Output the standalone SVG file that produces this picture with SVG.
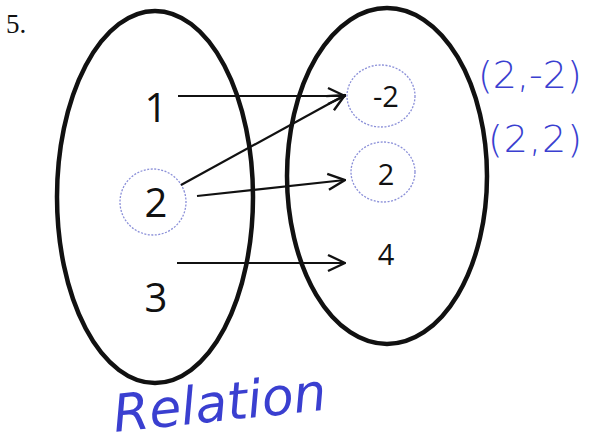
<svg xmlns="http://www.w3.org/2000/svg" width="612" height="448" viewBox="0 0 612 448">
<defs>
<style>
.set{fill:none;stroke:#111;stroke-width:4.5}
.num{font-family:"Open Sans","Liberation Sans",sans-serif;fill:#111}
.big{font-size:40px}
.small{font-size:29px}
.conn line{stroke:#111;stroke-width:2.2}
.circ{fill:none;stroke:#8a8fd8;stroke-width:1.3;stroke-dasharray:2 1.5}
.hand{font-family:"DejaVu Sans","Noto Sans",sans-serif;fill:#3a3fd0;font-weight:300}
</style>
<marker id="arr" viewBox="0 0 20 20" refX="19" refY="10" markerWidth="20" markerHeight="20" markerUnits="userSpaceOnUse" orient="auto">
<path d="M2,2 L19,10 L2,18" fill="none" stroke="#111" stroke-width="2.4"/>
</marker>
</defs>
<rect width="612" height="448" fill="#fff"/>
<text x="6" y="33" font-family="Liberation Serif,serif" font-size="27" fill="#111">5.</text>
<g id="domain">
<ellipse class="set" cx="155" cy="197" rx="98" ry="186"/>
</g>
<g id="range">
<ellipse class="set" cx="387" cy="176" rx="100" ry="168"/>
</g>
<g id="d1"><text class="num big" x="156" y="122" text-anchor="middle">1</text></g>
<g id="d2">
<ellipse class="circ" cx="153" cy="202" rx="33" ry="33" transform="rotate(-20 153 202)"/>
<text class="num big" x="156" y="217" text-anchor="middle">2</text></g>
<g id="d3"><text class="num big" x="156" y="312" text-anchor="middle">3</text></g>
<g id="rm2">
<ellipse class="circ" cx="381" cy="96" rx="34" ry="31"/>
<text class="num small" x="386" y="107" text-anchor="middle">-2</text></g>
<g id="r2">
<ellipse class="circ" cx="383" cy="172" rx="32" ry="30"/>
<text class="num small" x="386" y="185" text-anchor="middle">2</text></g>
<g id="r4"><text class="num small" x="386" y="265" text-anchor="middle">4</text></g>
<g class="conn" id="connectors">
<line x1="178" y1="96" x2="345" y2="96" marker-end="url(#arr)"/>
<line x1="181" y1="185" x2="345" y2="95" marker-end="url(#arr)"/>
<line x1="197" y1="196" x2="345" y2="180" marker-end="url(#arr)"/>
<line x1="177" y1="263" x2="345" y2="263" marker-end="url(#arr)"/>
</g>
<g id="notes">
<text class="hand" x="478" y="88" font-size="38" letter-spacing="0">(2,-2)</text>
<text class="hand" x="488" y="152" font-size="38" letter-spacing="1">(2,2)</text>
<text class="hand" x="115" y="432" font-size="52" font-style="italic" letter-spacing="0" transform="rotate(-6 115 432)">Relation</text>
</g>
</svg>
